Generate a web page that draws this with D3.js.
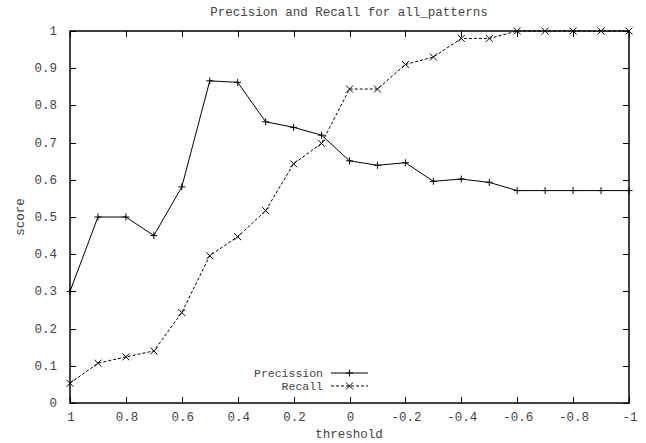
<!DOCTYPE html>
<html lang="en">
<head>
  <meta charset="UTF-8">
  <title>Precision and Recall for all_patterns</title>
  <script src="https://d3js.org/d3.v7.min.js"></script>
  <style>
    body { margin: 0; background: #fff; }
    text { font-family: "Liberation Mono", "DejaVu Sans Mono", monospace; font-size: 12.5px; fill: #444; }
    text.legend { font-size: 11.5px; }
  </style>
</head>
<body>
  <div id="container"></div>
  <script>
    const thresholds = [1, 0.9, 0.8, 0.7, 0.6, 0.5, 0.4, 0.3, 0.2, 0.1, 0,
      -0.1, -0.2, -0.3, -0.4, -0.5, -0.6, -0.7, -0.8, -0.9, -1]
    const precision = [0.300, 0.500, 0.500, 0.450, 0.581, 0.866, 0.862, 0.756, 0.741, 0.720, 0.651,
      0.639, 0.646, 0.596, 0.602, 0.593, 0.571, 0.571, 0.571, 0.571, 0.571]
    const recall = [0.053, 0.107, 0.124, 0.140, 0.243, 0.396, 0.447, 0.517, 0.643, 0.698, 0.844,
      0.844, 0.910, 0.930, 0.980, 0.980, 1, 1, 1, 1, 1]
    const xTicks = [1, 0.8, 0.6, 0.4, 0.2, 0, -0.2, -0.4, -0.6, -0.8, -1]
    const yTicks = [0, 0.1, 0.2, 0.3, 0.4, 0.5, 0.6, 0.7, 0.8, 0.9, 1]

    const width = 646, height = 443
    const plotL = 70, plotR = 629, plotT = 31, plotB = 403

    const svg = d3.select('#container').append('svg')
      .attr('width', width)
      .attr('height', height)

    const x = d3.scaleLinear().domain([1, -1]).range([plotL, plotR])
    const y = d3.scaleLinear().domain([0, 1]).range([plotB, plotT])

    // ticks, mirrored on all sides and pointing inward
    const tickLen = 6
    const g = svg.append('g').attr('stroke', '#000').attr('stroke-width', 1)
    xTicks.forEach(t => {
      const px = Math.round(x(t)) + 0.5
      g.append('line').attr('x1', px).attr('x2', px).attr('y1', plotB).attr('y2', plotB - tickLen)
      g.append('line').attr('x1', px).attr('x2', px).attr('y1', plotT).attr('y2', plotT + tickLen)
    })
    yTicks.forEach(t => {
      const py = Math.round(y(t)) + 0.5
      g.append('line').attr('x1', plotL).attr('x2', plotL + tickLen).attr('y1', py).attr('y2', py)
      g.append('line').attr('x1', plotR).attr('x2', plotR - tickLen).attr('y1', py).attr('y2', py)
    })

    svg.selectAll('.xlab')
      .data(xTicks)
      .enter()
      .append('text')
        .attr('x', d => x(d) + 1)
        .attr('y', 421)
        .attr('text-anchor', 'middle')
        .text(d => String(d))

    svg.selectAll('.ylab')
      .data(yTicks)
      .enter()
      .append('text')
        .attr('x', 57)
        .attr('y', d => y(d) + 4)
        .attr('text-anchor', 'end')
        .text(d => String(d))

    // border
    svg.append('rect')
      .attr('x', plotL).attr('y', plotT)
      .attr('width', plotR - plotL).attr('height', plotB - plotT)
      .attr('fill', 'none').attr('stroke', '#000').attr('stroke-width', 1.5)

    svg.append('text')
      .attr('x', 349).attr('y', 16)
      .attr('text-anchor', 'middle')
      .text('Precision and Recall for all_patterns')

    svg.append('text')
      .attr('x', 349).attr('y', 438)
      .attr('text-anchor', 'middle')
      .text('threshold')

    svg.append('text')
      .attr('transform', 'translate(24,217) rotate(-90)')
      .attr('text-anchor', 'middle')
      .text('score')

    const line = d3.line()
      .x(d => x(d[0]))
      .y(d => y(d[1]))

    const precPts = thresholds.map((t, i) => [t, precision[i]])
    const recPts = thresholds.map((t, i) => [t, recall[i]])

    svg.append('path')
      .attr('d', line(precPts))
      .attr('fill', 'none').attr('stroke', '#000').attr('stroke-width', 1)

    svg.append('path')
      .attr('d', line(recPts))
      .attr('fill', 'none').attr('stroke', '#000').attr('stroke-width', 1)
      .attr('stroke-dasharray', '3,2')

    const m = 3.5
    function plus (sel, px, py) {
      sel.append('path')
        .attr('d', `M${px - m},${py}H${px + m}M${px},${py - m}V${py + m}`)
        .attr('stroke', '#000').attr('stroke-width', 1)
    }
    function cross (sel, px, py) {
      sel.append('path')
        .attr('d', `M${px - m},${py - m}L${px + m},${py + m}M${px - m},${py + m}L${px + m},${py - m}`)
        .attr('stroke', '#000').attr('stroke-width', 1)
    }
    precPts.forEach(d => plus(svg, x(d[0]), y(d[1])))
    recPts.forEach(d => cross(svg, x(d[0]), y(d[1])))

    // legend
    svg.append('text').attr('class', 'legend').attr('x', 323).attr('y', 376.5).attr('text-anchor', 'end').text('Precission')
    svg.append('text').attr('class', 'legend').attr('x', 323).attr('y', 389.5).attr('text-anchor', 'end').text('Recall')
    svg.append('line').attr('x1', 331).attr('x2', 368).attr('y1', 373).attr('y2', 373)
      .attr('stroke', '#000').attr('stroke-width', 1)
    svg.append('line').attr('x1', 331).attr('x2', 368).attr('y1', 386).attr('y2', 386)
      .attr('stroke', '#000').attr('stroke-width', 1).attr('stroke-dasharray', '3,2')
    plus(svg, 349.5, 373)
    cross(svg, 349.5, 386)
  </script>
</body>
</html>
